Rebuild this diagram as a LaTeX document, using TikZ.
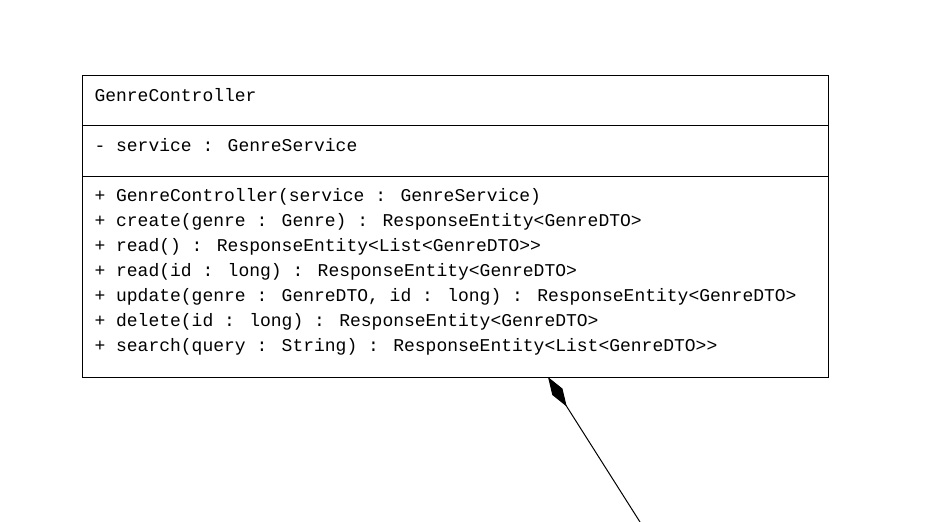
\documentclass[tikz,border=0pt]{standalone}
\usepackage{fontspec}
\newfontfamily\umlmono{Liberation Mono}
\usetikzlibrary{arrows.meta}
\begin{document}
\begin{tikzpicture}[x=1pt,y=-1pt,
  line width=1pt,
  umltext/.style={anchor=base west,inner sep=0pt,font=\umlmono\fontsize{18.0}{20}\selectfont},
  classbox/.style={draw,rectangle,inner sep=0pt,minimum width=746pt,minimum height=302pt,anchor=north west}]
\useasboundingbox (0,0) rectangle (951,522);
\node[classbox] (cls) at (82,75) {};
\draw (82,125) -- (828,125);
\draw (82,176) -- (828,176);
\node[umltext] (title) at (94,101) {GenreController};
\node[umltext] (attr) at (94,151) {- service : GenreService};
\node[umltext] (m1) at (94,201) {+ GenreController(service : GenreService)};
\node[umltext] (m2) at (94,226) {+ create(genre : Genre) : ResponseEntity<GenreDTO>};
\node[umltext] (m3) at (94,251) {+ read() : ResponseEntity<List<GenreDTO>{}>};
\node[umltext] (m4) at (94,276) {+ read(id : long) : ResponseEntity<GenreDTO>};
\node[umltext] (m5) at (94,301) {+ update(genre : GenreDTO, id : long) : ResponseEntity<GenreDTO>};
\node[umltext] (m6) at (94,326) {+ delete(id : long) : ResponseEntity<GenreDTO>};
\node[umltext] (m7) at (94,351) {+ search(query : String) : ResponseEntity<List<GenreDTO>{}>};
\coordinate (tip) at (548,377);
\coordinate (free) at (640,522);
\draw[-{Diamond[length=35pt,width=12pt]}] (free) -- (tip);
\end{tikzpicture}
\end{document}
